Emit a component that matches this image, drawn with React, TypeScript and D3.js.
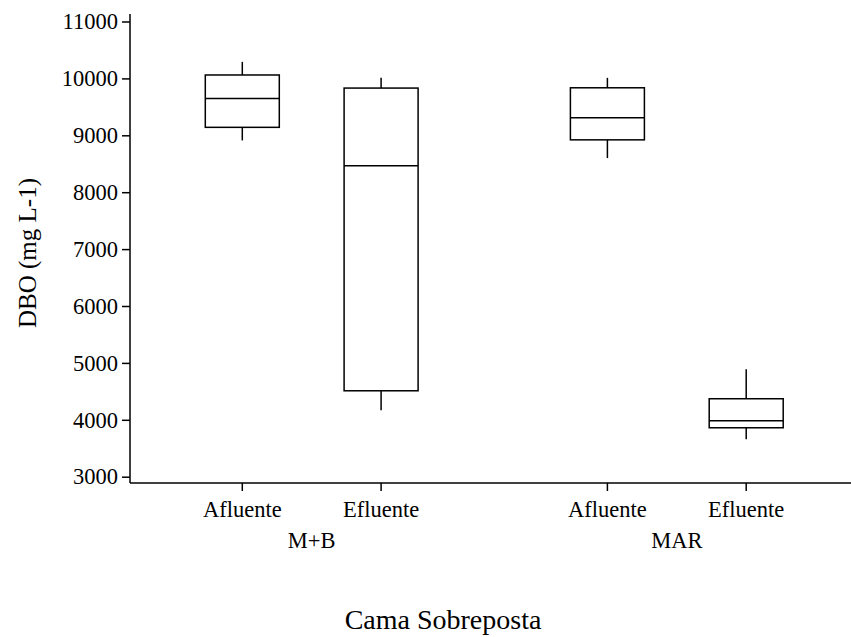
import React, { useEffect, useRef } from 'react';
import * as d3 from 'd3';

// groups and treatments
const groups = ['M+B', 'MAR'];
const treatments = ['Afluente', 'Efluente'];

// box stats per group/treatment, in order M+B Afluente, M+B Efluente, MAR Afluente, MAR Efluente
const boxGroup = ['M+B', 'M+B', 'MAR', 'MAR'];
const boxTreatment = ['Afluente', 'Efluente', 'Afluente', 'Efluente'];
const whiskerLow = [8910, 4170, 8600, 3660];
const q1 = [9140, 4510, 8920, 3860];
const median = [9645, 8465, 9310, 3985];
const q3 = [10060, 9830, 9835, 4370];
const whiskerHigh = [10290, 10010, 10010, 4890];

const yTicks = [3000, 4000, 5000, 6000, 7000, 8000, 9000, 10000, 11000];

const W = 851;
const H = 637;
const FONT = '"Liberation Serif", "Times New Roman", serif';

const App = () => {
  const svgRef = useRef<SVGSVGElement>(null);

  useEffect(() => {
    document.body.style.margin = '0';
    const svg = d3.select(svgRef.current);
    svg.selectAll('*').remove();

    const axisX = 130;
    const axisY = 483;

    const y = d3.scaleLinear().domain([3000, 11000]).range([476.7, 21.5]);
    const outer = d3.scalePoint<string>().domain(groups).range([311.7, 676.8]);
    const inner = d3.scalePoint<string>().domain(treatments).range([-69.4, 69.4]);
    const xPos = (i: number) => outer(boxGroup[i])! + inner(boxTreatment[i])!;
    const boxW = 74;

    // y axis
    const yAxis = d3.axisLeft(y)
      .tickValues(yTicks)
      .tickFormat(d3.format('d'))
      .tickSize(8)
      .tickPadding(4)
      .tickSizeOuter(0);
    const gy = svg.append('g')
      .attr('transform', `translate(${axisX},0)`)
      .call(yAxis)
      .attr('font-family', FONT)
      .attr('font-size', 22.5);
    gy.select('.domain').remove();
    gy.selectAll('line').attr('stroke', '#000').attr('stroke-width', 1.5);
    gy.selectAll('text').attr('fill', '#000');

    svg.append('line')
      .attr('x1', axisX).attr('x2', axisX)
      .attr('y1', 14).attr('y2', axisY)
      .attr('stroke', '#000').attr('stroke-width', 1.5);

    // x axis
    svg.append('line')
      .attr('x1', axisX).attr('x2', W)
      .attr('y1', axisY).attr('y2', axisY)
      .attr('stroke', '#000').attr('stroke-width', 1.5);

    const idx = d3.range(boxGroup.length);

    svg.selectAll('.xtick')
      .data(idx)
      .enter()
      .append('line')
      .attr('x1', (i) => xPos(i)).attr('x2', (i) => xPos(i))
      .attr('y1', axisY).attr('y2', axisY + 8)
      .attr('stroke', '#000').attr('stroke-width', 1.5);

    svg.selectAll('.xlabel')
      .data(idx)
      .enter()
      .append('text')
      .attr('x', (i) => xPos(i))
      .attr('y', 516.5)
      .attr('text-anchor', 'middle')
      .attr('font-family', FONT)
      .attr('font-size', 22.5)
      .text((i) => boxTreatment[i]);

    svg.selectAll('.glabel')
      .data(groups)
      .enter()
      .append('text')
      .attr('x', (d) => outer(d)!)
      .attr('y', 548)
      .attr('text-anchor', 'middle')
      .attr('font-family', FONT)
      .attr('font-size', 22.5)
      .text((d) => d);

    // boxes
    const box = svg.selectAll('.box').data(idx).enter().append('g');
    box.append('line')
      .attr('x1', (i) => xPos(i)).attr('x2', (i) => xPos(i))
      .attr('y1', (i) => y(whiskerHigh[i])).attr('y2', (i) => y(q3[i]))
      .attr('stroke', '#000').attr('stroke-width', 1.5);
    box.append('line')
      .attr('x1', (i) => xPos(i)).attr('x2', (i) => xPos(i))
      .attr('y1', (i) => y(q1[i])).attr('y2', (i) => y(whiskerLow[i]))
      .attr('stroke', '#000').attr('stroke-width', 1.5);
    box.append('rect')
      .attr('x', (i) => xPos(i) - boxW / 2)
      .attr('width', boxW)
      .attr('y', (i) => y(q3[i]))
      .attr('height', (i) => y(q1[i]) - y(q3[i]))
      .attr('fill', 'none')
      .attr('stroke', '#000').attr('stroke-width', 1.5);
    box.append('line')
      .attr('x1', (i) => xPos(i) - boxW / 2).attr('x2', (i) => xPos(i) + boxW / 2)
      .attr('y1', (i) => y(median[i])).attr('y2', (i) => y(median[i]))
      .attr('stroke', '#000').attr('stroke-width', 1.5);

    // axis titles
    svg.append('text')
      .attr('transform', `translate(36,253) rotate(-90)`)
      .attr('text-anchor', 'middle')
      .attr('font-family', FONT)
      .attr('font-size', 25)
      .text('DBO (mg L-1)');

    svg.append('text')
      .attr('x', 443)
      .attr('y', 629)
      .attr('text-anchor', 'middle')
      .attr('font-family', FONT)
      .attr('font-size', 28)
      .text('Cama Sobreposta');

    return () => {
      svg.selectAll('*').remove();
    };
  }, []);

  return <svg ref={svgRef} width={W} height={H} style={{ display: 'block', background: '#fff' }}></svg>;
};

export default App;
